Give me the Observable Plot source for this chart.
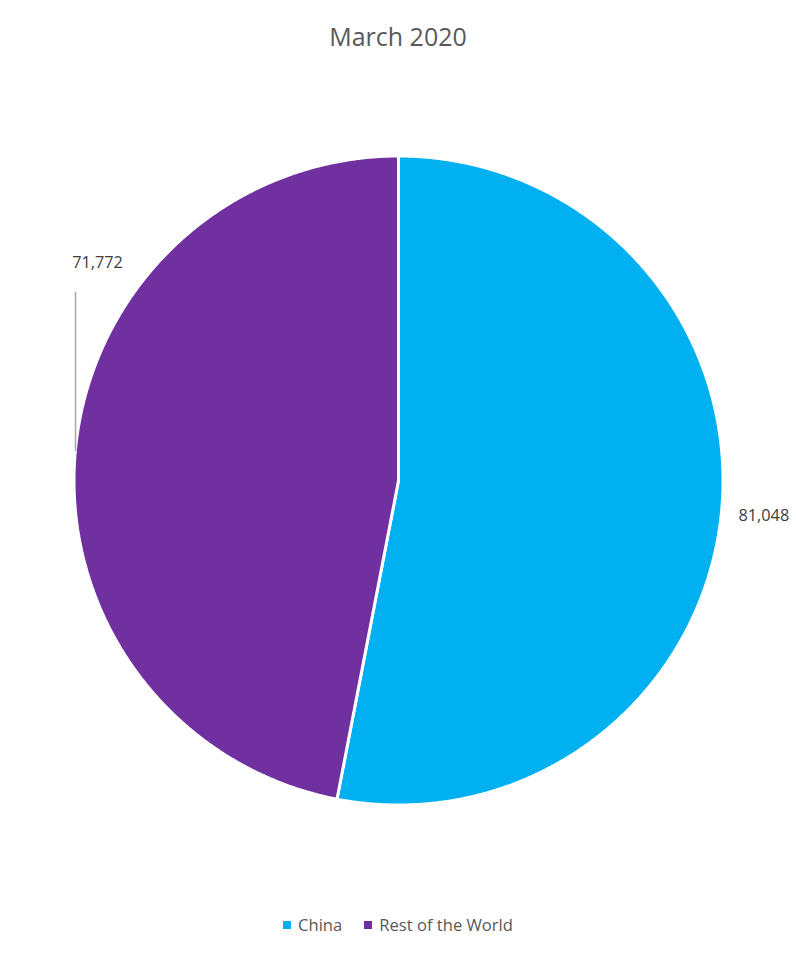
<!DOCTYPE html>
<html>
<head>
<meta charset="utf-8">
<script src="https://cdn.jsdelivr.net/npm/d3@7"></script>
<script src="https://cdn.jsdelivr.net/npm/@observablehq/plot@0.6"></script>
<style>
  html, body { margin: 0; padding: 0; background: #fff; }
  #wrap { width: 796px; height: 955px; position: relative; font-family: "Open Sans", sans-serif; }
  #title { position: absolute; top: 0; left: 0; width: 796px; height: 70px; text-align: center;
           font-size: 25px; color: #595959; line-height: 72px; }
  #chart { position: absolute; top: 70px; left: 0; }
  #legend { position: absolute; top: 912px; left: 0; width: 796px; text-align: center; font-size: 16.6px; color: #595959; line-height: 26px; }
  .sw { display: inline-block; width: 8px; height: 8px; margin-right: 7px; vertical-align: 2px; }
  .item { display: inline-block; margin: 0 11px; }
</style>
</head>
<body>
<div id="wrap">
  <div id="title">March 2020</div>
  <div id="chart"></div>
  <div id="legend"></div>
</div>
<script>
// ---- data ----
const categories = ["China", "Rest of the World"];
const values = [81048, 71772];
const colors = ["#00b0f0", "#7030a0"];
const title = "March 2020";

// ---- layout (page pixel coordinates) ----
const W = 796, top0 = 70, H = 800;
const cx = 398, cy = 480, R = 324.5;

const pie = d3.pie().sort(null).value(d => d.value)(categories.map((c, i) => ({name: c, value: values[i]})));
const pt = (a, r) => [cx + r * Math.sin(a), cy - r * Math.cos(a)];

// slice polygons
const slicePts = [];
pie.forEach(s => {
  const name = s.data.name;
  const [x0, y0] = pt(0, 0);
  slicePts.push({name, x: x0, y: y0});
  const n = Math.max(2, Math.ceil((s.endAngle - s.startAngle) / (Math.PI / 720)));
  for (let k = 0; k <= n; k++) {
    const a = s.startAngle + (s.endAngle - s.startAngle) * k / n;
    const [x, y] = pt(a, R);
    slicePts.push({name, x, y});
  }
  slicePts.push({name, x: x0, y: y0});
});

// labels: China at mid-angle outside; Rest of the World moved with leader line (Excel best-fit)
const fmt = d3.format(",");
const labels = pie.map((s, i) => {
  const mid = (s.startAngle + s.endAngle) / 2;
  let [x, y] = pt(mid, 367);
  return {name: s.data.name, text: fmt(s.data.value), x, y};
});
labels[1].x = 97; labels[1].y = 262;
const leader = [{x: 75, y: 292}, {x: 75, y: 450}];

const plot = Plot.plot({
  width: W, height: H,
  margin: 0,
  x: {domain: [0, W], range: [0, W], axis: null},
  y: {domain: [top0, top0 + H], range: [0, H], axis: null},
  color: {domain: categories, range: colors},
  style: {background: "white", fontFamily: "Open Sans, sans-serif"},
  marks: [
    Plot.line(slicePts, {x: "x", y: "y", z: "name", fill: "name", stroke: "white", strokeWidth: 3, strokeLinejoin: "miter", curve: "linear"}),
    Plot.line(leader, {x: "x", y: "y", stroke: "#a6a6a6", strokeWidth: 1.5}),
    Plot.text(labels, {x: "x", y: "y", text: "text", fill: "#404040", fontSize: 16.3, textAnchor: "middle"})
  ]
});
document.getElementById("chart").appendChild(plot);

// legend
const leg = document.getElementById("legend");
categories.forEach((c, i) => {
  const s = document.createElement("span");
  s.className = "item";
  s.innerHTML = `<span class="sw" style="background:${colors[i]}"></span>${c}`;
  leg.appendChild(s);
});
</script>
</body>
</html>
